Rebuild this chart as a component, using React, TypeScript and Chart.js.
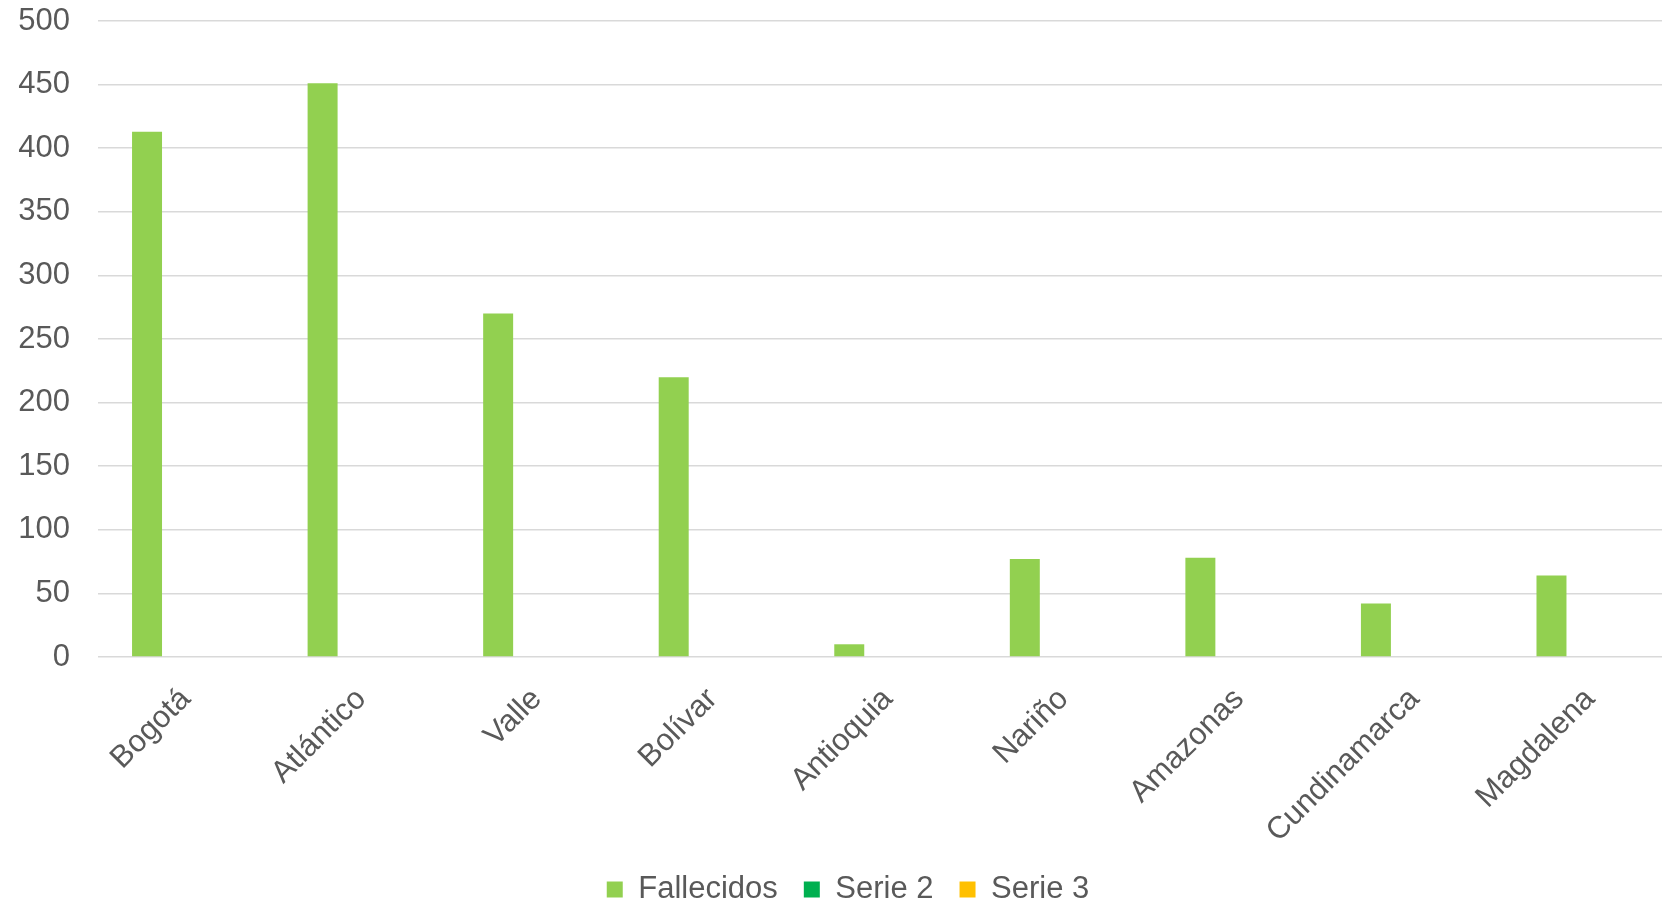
import React, { useEffect, useRef } from "react";
import { Chart, registerables } from "chart.js";

Chart.register(...registerables);

const categories = ["Bogotá", "Atlántico", "Valle", "Bolívar", "Antioquia", "Nariño", "Amazonas", "Cundinamarca", "Magdalena"];
const fallecidos = [413, 451, 270, 220, 10, 77, 78, 42, 64];
const serie2: (number | null)[] = [null, null, null, null, null, null, null, null, null];
const serie3: (number | null)[] = [null, null, null, null, null, null, null, null, null];
const seriesNames = ["Fallecidos", "Serie 2", "Serie 3"];
const seriesColors = ["#92D050", "#00B050", "#FFC000"];
const yMin = 0;
const yMax = 500;
const yStep = 50;

const FONT = "'Liberation Sans', Arial, sans-serif";
const TEXT = "#595959";

export default function App() {
  const ref = useRef<HTMLCanvasElement | null>(null);

  useEffect(() => {
    document.body.style.margin = "0";
    document.body.style.overflow = "hidden";
    const canvas = ref.current;
    if (!canvas) return;
    const data = [fallecidos, serie2, serie3];
    const chart = new Chart(canvas, {
      type: "bar",
      data: {
        labels: categories,
        datasets: seriesNames.map((name, i) => ({
          label: name,
          data: data[i],
          backgroundColor: seriesColors[i],
          borderWidth: 0,
          categoryPercentage: 0.662,
          barPercentage: 0.774,
        })),
      },
      options: {
        animation: false,
        responsive: true,
        maintainAspectRatio: false,
        devicePixelRatio: 1,
        layout: { padding: { top: 21, left: 18, right: 18, bottom: 0 } },
        plugins: {
          tooltip: { enabled: false },
          legend: {
            position: "bottom",
            labels: {
              font: { family: FONT, size: 31 },
              color: TEXT,
              boxWidth: 16,
              boxHeight: 16,
              padding: 26,
            },
          },
        },
        scales: {
          x: {
            grid: { display: false, drawTicks: false },
            border: { display: false },
            ticks: {
              font: { family: FONT, size: 31 },
              color: TEXT,
              minRotation: 45,
              maxRotation: 45,
              autoSkip: false,
              padding: 24,
            },
            afterFit: (scale: any) => {
              scale.height = 191;
            },
          },
          y: {
            min: yMin,
            max: yMax,
            ticks: {
              stepSize: yStep,
              font: { family: FONT, size: 31 },
              color: TEXT,
              padding: 28,
            },
            grid: { color: "#D9D9D9", lineWidth: 1.5, drawTicks: false },
            border: { display: false },
            afterFit: (scale: any) => {
              scale.width = 80;
              scale.paddingTop = 0;
              scale.paddingBottom = 0;
            },
          },
        },
      },
    });
    return () => chart.destroy();
  }, []);

  return (
    <div style={{ width: 1662, height: 904, overflow: "hidden", position: "relative", background: "#fff" }}>
      <div style={{ position: "absolute", left: 0, top: 0, width: 1696, height: 915 }}>
        <canvas ref={ref} />
      </div>
    </div>
  );
}
